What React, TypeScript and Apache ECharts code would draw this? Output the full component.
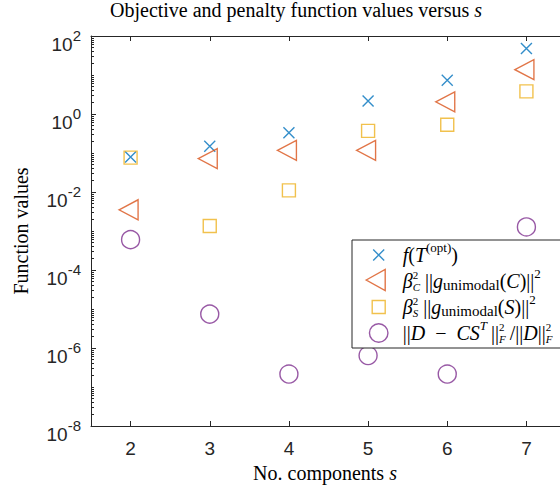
import { useEffect, useRef } from "react";
import * as echarts from "echarts";

// Number of components s
const components = [2, 3, 4, 5, 6, 7];
// f(T^(opt))
const objective = [0.079, 0.148, 0.33, 2.15, 7.3, 48];
// beta_C^2 ||g_unimodal(C)||^2
const penaltyC = [0.0035, 0.072, 0.117, 0.117, 2.05, 13.7];
// beta_S^2 ||g_unimodal(S)||^2
const penaltyS = [0.076, 0.00134, 0.011, 0.37, 0.53, 3.8];
// ||D - C S^T||_F^2 / ||D||_F^2
const residual = [6.0e-4, 7.4e-6, 2.15e-7, 6.4e-7, 2.15e-7, 1.27e-3];

const xTicks = [2, 3, 4, 5, 6, 7];
const yMajorTicks = [1e-8, 1e-6, 1e-4, 1e-2, 1, 1e2];

// log minor ticks: 2..9 x 10^k and the odd decades
const yMinorTicks: number[] = [];
for (let k = -8; k < 2; k++) {
  for (let m = 1; m <= 9; m++) {
    if (m === 1 && k % 2 === 0) continue;
    yMinorTicks.push(Number((m * Math.pow(10, k)).toPrecision(3)));
  }
}

const AXIS = "#262626";
const SANS = "'Liberation Sans', Arial, Helvetica, sans-serif";
const SERIF = "'Liberation Serif', 'Times New Roman', serif";

const BLUE = "#0072BD";
const ORANGE = "#D95319";
const YELLOW = "#EDB120";
const PURPLE = "#7E2F8E";

const legendText: Record<string, string> = {
  obj: "{i|f}{r|(}{i|T}{sp|(opt)}{r|)}",
  penC: "{i|β}{spz|2}{sb|C}{r| ||}{i|g}{sbr|unimodal}{r|(}{i|C}{r|)||}{sp|2}",
  penS: "{i|β}{spz|2}{sb|S}{r| ||}{i|g}{sbr|unimodal}{r|(}{i|S}{r|)||}{sp|2}",
  res: "{r|||}{i|D}{r|\u2002−\u2002}{i|CS}{spi|T}{r|\u2009||}{spz|2}{sb|F}{r|\u2009/||}{i|D}{r|||}{spz|2}{sb|F}",
};

const base = { fontFamily: SERIF, fontWeight: "normal", lineHeight: 22, color: "#000" };
const legendRich = {
  r: { ...base, fontSize: 20 },
  i: { ...base, fontSize: 20, fontStyle: "italic" },
  // superscripts are lifted with bottom padding, subscripts lowered with top padding
  sp: { ...base, fontSize: 13, padding: [0, 0, 15, 0] },
  spi: { ...base, fontSize: 13, fontStyle: "italic", padding: [0, 0, 15, 0] },
  spz: { ...base, fontSize: 11, width: 0, padding: [0, 0, 13, 0] },
  sb: { ...base, fontSize: 11, fontStyle: "italic", padding: [11, 0, 0, 0] },
  sbr: { ...base, fontSize: 15, padding: [8, 0, 0, 0] },
};

// legend icons drawn inside a 38 x 24 box
const ICON_BOX = "M0,0M38,24";
const legendIcons: Record<string, string> = {
  obj: `path://${ICON_BOX}M13.5,6.5L24.5,17.5M24.5,6.5L13.5,17.5`,
  penC: `path://${ICON_BOX}M6.5,11L25.5,0.5L25.5,21.5Z`,
  penS: `path://${ICON_BOX}M12.5,5.5L25.5,5.5L25.5,18.5L12.5,18.5Z`,
  res: `path://${ICON_BOX}M9.75,12A9.25,9.25,0,1,1,28.25,12A9.25,9.25,0,1,1,9.75,12Z`,
};

const CROSS = "path://M0,0L10,10M10,0L0,10";
const LEFT_TRIANGLE = "path://M0,10L19,0L19,20Z";

function points(values: number[]) {
  return components.map((s, i) => [s, values[i]]);
}

function markerSeries(
  name: string,
  values: number[],
  symbol: string,
  size: number | number[],
  color: string,
  offset: number[] = [0, 0]
) {
  return {
    name,
    type: "scatter",
    data: points(values),
    symbol,
    symbolSize: size,
    symbolOffset: offset,
    itemStyle: { color: "transparent", borderColor: color, borderWidth: 1.4 },
    emphasis: { disabled: true },
    silent: true,
  };
}

export default function App() {
  const ref = useRef<HTMLDivElement>(null);

  useEffect(() => {
    document.body.style.margin = "0";
    if (!ref.current) return;
    const chart = echarts.init(ref.current, undefined, { renderer: "svg" });

    const expLabel = (v: number) => `{b|10}{s|${Math.round(Math.log10(v))}}`;

    chart.setOption({
      animation: false,
      backgroundColor: "#ffffff",
      title: {
        text: "{r|Objective and penalty function values versus }{i|s}",
        left: 110,
        top: 0,
        padding: 0,
        textStyle: {
          fontWeight: "normal",
          rich: {
            r: { fontFamily: SERIF, fontSize: 20, fontWeight: "normal", color: "#000" },
            i: { fontFamily: SERIF, fontSize: 20, fontWeight: "normal", fontStyle: "italic", color: "#000" },
          },
        },
      },
      grid: { left: 91, top: 36, width: 475, height: 390, outerBoundsMode: "none" },
      xAxis: [
        {
          type: "value",
          position: "bottom",
          min: 1.5,
          max: 7.5,
          axisLine: { show: true, onZero: false, lineStyle: { color: AXIS, width: 1 } },
          axisTick: { show: true, inside: true, length: 5, customValues: xTicks, lineStyle: { color: AXIS } },
          axisLabel: {
            customValues: xTicks,
            margin: 13,
            fontFamily: SANS,
            fontSize: 19,
            color: AXIS,
          },
          splitLine: { show: false },
          name: "{r|No. components }{i|s}",
          nameLocation: "middle",
          nameGap: 34,
          nameTextStyle: {
            padding: [0, 7, 0, 0],
            rich: {
              r: { fontFamily: SERIF, fontSize: 20, color: "#000" },
              i: { fontFamily: SERIF, fontSize: 20, fontStyle: "italic", color: "#000" },
            },
          },
        },
        {
          type: "value",
          position: "top",
          min: 1.5,
          max: 7.5,
          axisLine: { show: true, onZero: false, lineStyle: { color: AXIS, width: 1 } },
          axisTick: { show: true, inside: true, length: 5, customValues: xTicks, lineStyle: { color: AXIS } },
          axisLabel: { show: false },
          splitLine: { show: false },
        },
      ],
      yAxis: [
        {
          type: "log",
          logBase: 10,
          position: "left",
          min: 1e-8,
          max: 1e2,
          axisLine: { show: true, onZero: false, lineStyle: { color: AXIS, width: 1 } },
          axisTick: { show: true, inside: true, length: 5, customValues: yMajorTicks, lineStyle: { color: AXIS } },
          axisLabel: {
            customValues: yMajorTicks,
            margin: 10,
            formatter: expLabel,
            padding: [17, 0, 0, 0],
            rich: {
              b: { fontFamily: SANS, fontSize: 19, lineHeight: 20, color: AXIS },
              s: { fontFamily: SANS, fontSize: 15, lineHeight: 20, padding: [0, 0, 19, 0], color: AXIS },
            },
          },
          splitLine: { show: false },
          name: "Function values",
          nameLocation: "middle",
          nameGap: 60,
          nameTextStyle: { fontFamily: SERIF, fontSize: 20, color: "#000" },
        },
        {
          type: "log",
          logBase: 10,
          position: "left",
          min: 1e-8,
          max: 1e2,
          axisLine: { show: false, onZero: false },
          axisTick: { show: true, inside: true, length: 3, customValues: yMinorTicks, lineStyle: { color: AXIS } },
          axisLabel: { show: false },
          splitLine: { show: false },
        },
      ],
      legend: {
        orient: "vertical",
        left: 352,
        top: 240,
        padding: [1, 40, 1, 7],
        itemWidth: 38,
        itemHeight: 24,
        itemGap: -2,
        backgroundColor: "#ffffff",
        borderColor: AXIS,
        borderWidth: 1,
        borderRadius: 0,
        selectedMode: false,
        itemStyle: { borderWidth: 1.4 },
        data: Object.keys(legendIcons).map((name) => ({ name, icon: legendIcons[name] })),
        formatter: (name: string) => legendText[name],
        textStyle: { rich: legendRich },
      },
      series: [
        markerSeries("obj", objective, CROSS, 11, BLUE),
        markerSeries("penC", penaltyC, LEFT_TRIANGLE, [19, 20], ORANGE, [-2, 0]),
        markerSeries("penS", penaltyS, "rect", 13, YELLOW),
        markerSeries("res", residual, "circle", 18, PURPLE),
      ],
    });

    return () => chart.dispose();
  }, []);

  return (
    <div
      ref={ref}
      style={{ position: "absolute", left: 0, top: 0, width: 560, height: 488 }}
    />
  );
}
